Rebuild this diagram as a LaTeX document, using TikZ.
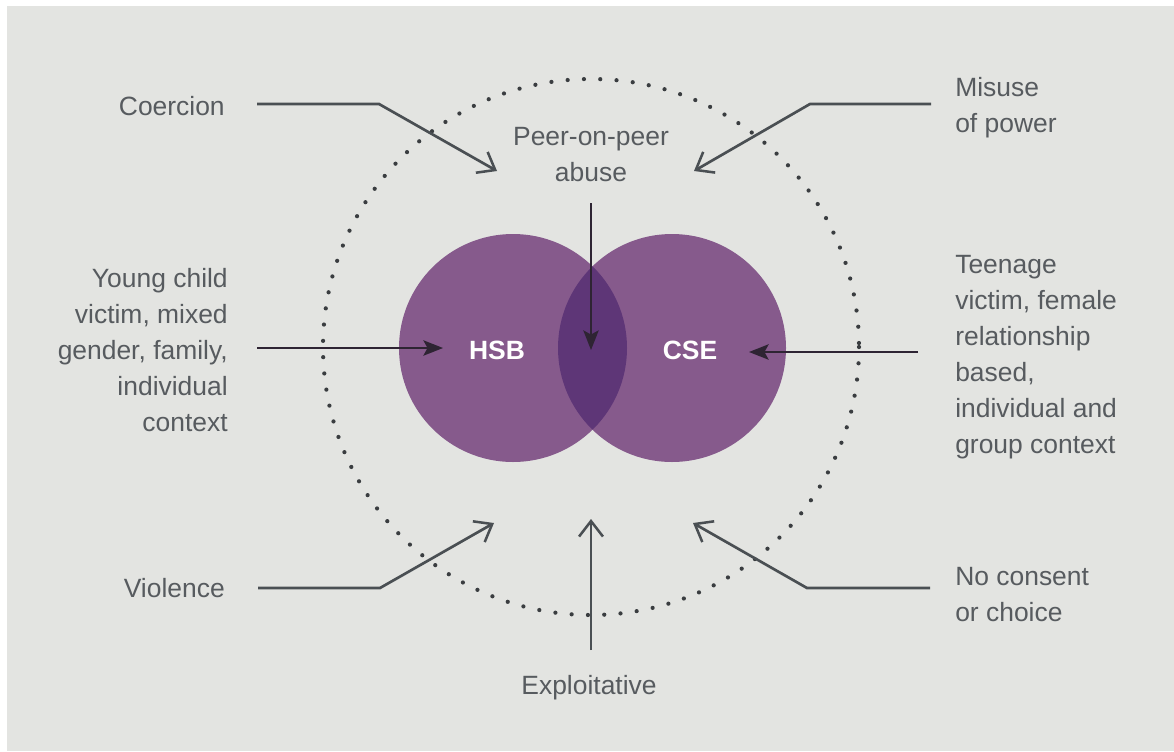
\documentclass[tikz,border=0pt]{standalone}
\usepackage{fontspec}
\setmainfont{Liberation Sans}
\usetikzlibrary{arrows.meta}

\definecolor{bggray}{HTML}{E3E4E1}
\definecolor{vennpurple}{HTML}{865A8C}
\definecolor{venndark}{HTML}{5E3677}
\definecolor{txtgray}{HTML}{575B5F}
\definecolor{linegray}{HTML}{4A4F53}
\definecolor{arrowdark}{HTML}{2E2433}
\definecolor{dotgray}{HTML}{3A3D40}

\tikzset{
    lbl/.style={inner sep=0pt, text=txtgray, font=\fontsize{18.8}{25.6}\selectfont},
    vennlbl/.style={inner sep=0pt, text=white, font=\fontsize{18.8}{25.6}\selectfont\bfseries},
    feed/.style={draw=linegray, line width=1.9pt, -{Straight Barb[length=11pt,width=17pt,line width=1.8pt]}},
    pointer/.style={draw=arrowdark, line width=1.1pt, -{Stealth[length=14pt,width=11pt,inset=3pt]}},
}

\begin{document}
\begin{tikzpicture}[x=0.025cm, y=-0.025cm]
    \fill[white] (0,0) rectangle (1174,751);
    \fill[bggray] (7,6) rectangle (1174,751);

    \draw[dotgray, line width=3pt, line cap=round, dash pattern=on 0pt off 11.6pt] (591,347) circle (268);

    \fill[vennpurple] (513,348) circle (114);
    \fill[vennpurple] (672,348) circle (114);
    \begin{scope}
        \clip (513,348) circle (114);
        \fill[venndark] (672,348) circle (114);
    \end{scope}

    \node[vennlbl] (hsb) at (497,350) {HSB};
    \node[vennlbl] (cse) at (690,350) {CSE};

    \node[lbl, align=center] (peer) at (591,155) {Peer-on-peer\\abuse};
    \node[lbl, anchor=east] (coercion) at (225,106) {Coercion};
    \node[lbl, anchor=west, align=left] (misuse) at (955,108) {Misuse\\of power};
    \node[lbl, anchor=east, align=right] (young) at (228,350) {Young child\\victim, mixed\\gender, family,\\individual\\context};
    \node[lbl, anchor=west, align=left] (teenage) at (955,357) {Teenage\\victim, female\\relationship\\based,\\individual and\\group context};
    \node[lbl, anchor=east] (violence) at (225,588) {Violence};
    \node[lbl, anchor=west, align=left] (noconsent) at (955,595) {No consent\\or choice};
    \node[lbl] (exploit) at (589,688) {Exploitative};

    \coordinate (peerstart) at (591,203);
    \coordinate (peertip) at (591,350);
    \coordinate (youngstart) at (257,348);
    \coordinate (youngtip) at (443,348);
    \coordinate (csestart) at (918,352);
    \coordinate (csetip) at (749,352);

    \coordinate (coercionstart) at (257,104);
    \coordinate (coercionbend) at (379,104);
    \coordinate (coerciontip) at (497,171);
    \coordinate (misusestart) at (931,104);
    \coordinate (misusebend) at (810,104);
    \coordinate (misusetip) at (694,171);
    \coordinate (violencestart) at (258,588);
    \coordinate (violencebend) at (380,588);
    \coordinate (violencetip) at (494,523);
    \coordinate (noconsentstart) at (930,588);
    \coordinate (noconsentbend) at (807,588);
    \coordinate (noconsenttip) at (693,523);
    \coordinate (exploitstart) at (591,650);
    \coordinate (exploittip) at (591,519);

    \draw[pointer] (peerstart) -- (peertip);
    \draw[pointer] (youngstart) -- (youngtip);
    \draw[pointer] (csestart) -- (csetip);

    \draw[feed] (coercionstart) -- (coercionbend) -- (coerciontip);
    \draw[feed] (misusestart) -- (misusebend) -- (misusetip);
    \draw[feed] (violencestart) -- (violencebend) -- (violencetip);
    \draw[feed] (noconsentstart) -- (noconsentbend) -- (noconsenttip);
    \draw[feed] (exploitstart) -- (exploittip);
\end{tikzpicture}
\end{document}
